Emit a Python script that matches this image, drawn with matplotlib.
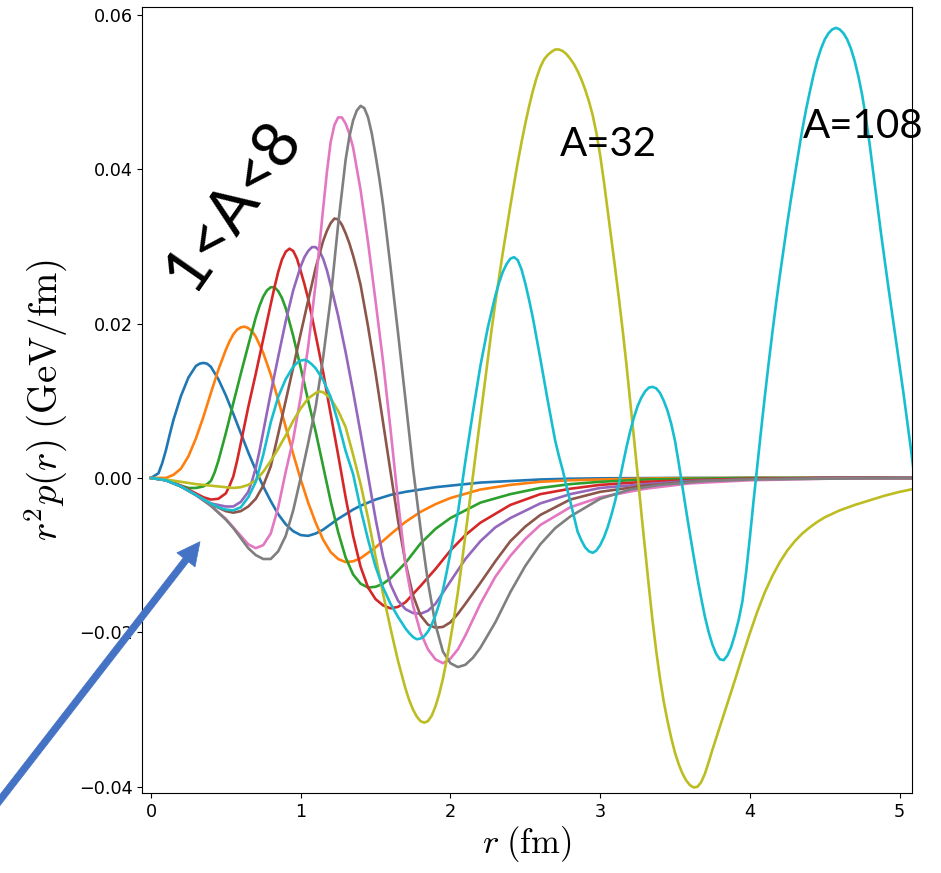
import matplotlib
matplotlib.use("Agg")
import matplotlib.pyplot as plt

plt.rcParams['mathtext.fontset'] = 'cm'

# (r [fm], r^2 p(r) [GeV/fm]) pairs, one list per nucleus
# light nuclei, 1<A<8
a1 = [(0, 0), (.05, .0006), (.075, .0019), (.1, .0036), (.125, .0056), (.15, .0075), (.2, .0106),
      (.25, .0130), (.3, .0145), (.325, .0148), (.35, .0149), (.375, .0148), (.4, .0144),
      (.45, .0128), (.5, .0107), (.55, .0083), (.6, .0058), (.65, .0033), (.7, .0010),
      (.75, -.0011), (.8, -.0030), (.85, -.0047), (.9, -.0060), (.95, -.0069), (1.0, -.0074),
      (1.05, -.0075), (1.1, -.0072), (1.15, -.0067), (1.2, -.0060), (1.25, -.0053),
      (1.3, -.0047), (1.35, -.0041), (1.4, -.0036), (1.5, -.0028), (1.6, -.0022),
      (1.7, -.0018), (1.8, -.0015), (1.9, -.0012), (2.0, -.0010), (2.2, -.0006),
      (2.4, -.0004), (2.6, -.0002), (2.8, -.0001), (3.0, -.00005), (3.5, 0), (5.1, 0)]

a2 = [(0, 0), (.1, 0), (.15, .0004), (.2, .0012), (.25, .0028), (.3, .0051), (.35, .0079),
      (.4, .0110), (.45, .0140), (.5, .0166), (.525, .0177), (.55, .0186), (.575, .0192),
      (.6, .0195), (.625, .0196), (.65, .0194), (.675, .0190), (.7, .0183), (.75, .0162),
      (.8, .0134), (.85, .0101), (.9, .0066), (.95, .0031), (1.0, -.0002), (1.05, -.0032),
      (1.1, -.0058), (1.15, -.0080), (1.2, -.0096), (1.25, -.0105), (1.3, -.0109),
      (1.35, -.0108), (1.4, -.0104), (1.5, -.0090), (1.6, -.0073), (1.7, -.0057),
      (1.8, -.0044), (1.9, -.0034), (2.0, -.0026), (2.2, -.0015), (2.4, -.0009),
      (2.6, -.0005), (2.8, -.0003), (3.0, -.0002), (3.4, -.00005), (4.0, 0), (5.1, 0)]

a3 = [(0, 0), (.1, -.0003), (.2, -.0010), (.25, -.0013), (.3, -.0013), (.35, -.0011),
      (.375, -.0008), (.4, -.0004), (.425, .0007), (.45, .0022), (.5, .0058), (.55, .0097),
      (.6, .0135), (.65, .0172), (.7, .0208), (.725, .0223), (.75, .0235), (.775, .0243),
      (.8, .0247), (.825, .0247), (.85, .0242), (.875, .0233), (.9, .0220), (.95, .0184),
      (1.0, .0143), (1.05, .0100), (1.1, .0060), (1.15, .0015), (1.2, -.0030), (1.25, -.0070),
      (1.3, -.0103), (1.35, -.0125), (1.4, -.0137), (1.45, -.0142), (1.5, -.0141),
      (1.55, -.0137), (1.6, -.0130), (1.7, -.0110), (1.8, -.0085), (1.9, -.0066),
      (2.0, -.0052), (2.2, -.0032), (2.4, -.0021), (2.6, -.0013), (2.8, -.0008),
      (3.0, -.0005), (3.3, -.0002), (3.6, -.0001), (4.0, 0), (5.1, 0)]

a4 = [(0, 0), (.1, -.0002), (.2, -.0010), (.3, -.0020), (.35, -.0025), (.4, -.0028),
      (.45, -.0027), (.5, -.0020), (.525, -.0010), (.55, .0002), (.575, .0022), (.6, .0045),
      (.65, .0092), (.7, .0135), (.75, .0180), (.8, .0225), (.825, .0247), (.85, .0267),
      (.875, .0283), (.9, .0293), (.925, .0297), (.95, .0294), (.975, .0284), (1.0, .0268),
      (1.025, .0251), (1.05, .0232), (1.075, .0209), (1.1, .0185), (1.15, .0137), (1.2, .0083),
      (1.25, .0030), (1.3, -.0025), (1.35, -.0075), (1.4, -.0115), (1.45, -.0142),
      (1.5, -.0157), (1.55, -.0165), (1.6, -.0169), (1.65, -.0167), (1.7, -.0161),
      (1.8, -.0140), (1.9, -.0118), (2.0, -.0094), (2.1, -.0074), (2.2, -.0058),
      (2.4, -.0035), (2.6, -.0021), (2.8, -.0014), (3.0, -.0009), (3.3, -.0005),
      (3.6, -.0003), (4.0, -.0001), (4.5, 0), (5.1, 0)]

a5 = [(0, 0), (.1, -.0003), (.2, -.0011), (.3, -.0022), (.4, -.0033), (.5, -.0037),
      (.55, -.0037), (.6, -.0031), (.65, -.0018), (.675, -.0004), (.7, .0013), (.725, .0035),
      (.75, .0060), (.8, .0110), (.85, .0157), (.9, .0203), (.95, .0243), (1.0, .0274),
      (1.025, .0286), (1.05, .0294), (1.075, .0299), (1.1, .0299), (1.125, .0294),
      (1.15, .0284), (1.175, .0269), (1.2, .0250), (1.25, .0210), (1.3, .0163), (1.35, .0112),
      (1.4, .0058), (1.45, .0003), (1.5, -.0053), (1.55, -.0102), (1.6, -.0138),
      (1.65, -.0159), (1.7, -.0170), (1.75, -.0175), (1.8, -.0176), (1.85, -.0172),
      (1.9, -.0163), (2.0, -.0134), (2.1, -.0105), (2.2, -.0082), (2.3, -.0064),
      (2.4, -.0052), (2.6, -.0033), (2.8, -.0021), (3.0, -.0013), (3.3, -.0008),
      (3.6, -.0004), (4.0, -.0002), (4.5, 0), (5.1, 0)]

a6 = [(0, 0), (.1, -.0003), (.2, -.0011), (.3, -.0022), (.4, -.0034), (.5, -.0043),
      (.55, -.0045), (.6, -.0043), (.65, -.0037), (.7, -.0027), (.75, -.0010), (.8, .0015),
      (.85, .0057), (.9, .0100), (.95, .0143), (1.0, .0187), (1.05, .0230), (1.1, .0272),
      (1.15, .0307), (1.175, .0320), (1.2, .0330), (1.225, .0336), (1.25, .0335),
      (1.275, .0328), (1.3, .0317), (1.325, .0304), (1.35, .0288), (1.375, .0270),
      (1.4, .0250), (1.45, .0196), (1.5, .0136), (1.55, .0072), (1.6, .0008), (1.65, -.0055),
      (1.7, -.0110), (1.75, -.0152), (1.8, -.0178), (1.85, -.0190), (1.9, -.0194),
      (1.95, -.0193), (2.0, -.0187), (2.05, -.0176), (2.1, -.0163), (2.2, -.0136),
      (2.3, -.0108), (2.4, -.0082), (2.5, -.0063), (2.6, -.0048), (2.8, -.0028),
      (3.0, -.0018), (3.3, -.0010), (3.6, -.0005), (4.0, -.0002), (4.5, 0), (5.1, 0)]

a7 = [(0, 0), (.1, -.0003), (.2, -.0011), (.3, -.0022), (.4, -.0036), (.5, -.0053),
      (.6, -.0075), (.65, -.0086), (.7, -.0091), (.75, -.0087), (.8, -.0072), (.85, -.0038),
      (.9, .0008), (.95, .0050), (1.0, .0105), (1.05, .0170), (1.1, .0252), (1.15, .0349),
      (1.175, .0396), (1.2, .0435), (1.225, .0457), (1.25, .0467), (1.275, .0467),
      (1.3, .0459), (1.325, .0446), (1.35, .0428), (1.4, .0373), (1.45, .0305), (1.5, .0229),
      (1.55, .0151), (1.6, .0063), (1.65, -.0030), (1.7, -.0112), (1.75, -.0165),
      (1.8, -.0200), (1.85, -.0222), (1.9, -.0235), (1.95, -.0240), (2.0, -.0234),
      (2.05, -.0222), (2.1, -.0204), (2.2, -.0163), (2.3, -.0128), (2.4, -.0101),
      (2.5, -.0079), (2.6, -.0061), (2.8, -.0038), (3.0, -.0025), (3.3, -.0014),
      (3.6, -.0007), (4.0, -.0003), (4.5, -.0001), (5.1, 0)]

a8 = [(0, 0), (.1, -.0003), (.2, -.0011), (.3, -.0022), (.4, -.0036), (.5, -.0054),
      (.55, -.0065), (.6, -.0078), (.65, -.0091), (.7, -.0100), (.75, -.0105), (.8, -.0105),
      (.85, -.0095), (.9, -.0075), (.95, -.0042), (1.0, .0000), (1.05, .0045), (1.1, .0092),
      (1.15, .0156), (1.2, .0232), (1.25, .0328), (1.3, .0412), (1.325, .0442), (1.35, .0463),
      (1.375, .0476), (1.4, .0482), (1.425, .0479), (1.45, .0467), (1.475, .0446),
      (1.5, .0418), (1.525, .0388), (1.55, .0354), (1.575, .0314), (1.6, .0273),
      (1.625, .0230), (1.65, .0188), (1.7, .0101), (1.75, .0013), (1.8, -.0065),
      (1.85, -.0135), (1.9, -.0190), (1.95, -.0225), (2.0, -.0240), (2.05, -.0245),
      (2.1, -.0242), (2.15, -.0233), (2.2, -.0220), (2.3, -.0187), (2.4, -.0148),
      (2.5, -.0114), (2.6, -.0086), (2.7, -.0065), (2.8, -.0050), (3.0, -.0027),
      (3.2, -.0015), (3.4, -.0009), (3.7, -.0004), (4.0, -.0002), (4.5, -.0001), (5.1, 0)]

# A = 32
a32 = [(0, 0), (.1, -.0002), (.2, -.0005), (.3, -.0008), (.4, -.0010), (.5, -.0012),
       (.55, -.0013), (.6, -.0012), (.65, -.0009), (.7, -.0003), (.75, .0008), (.8, .0022),
       (.85, .0038), (.9, .0055), (.95, .0074), (1.0, .0090), (1.05, .0103), (1.1, .0110),
       (1.125, .0112), (1.15, .0111), (1.2, .0103), (1.25, .0087), (1.3, .0066), (1.35, .0030),
       (1.4, -.0008), (1.45, -.0052), (1.5, -.0102), (1.55, -.0150), (1.6, -.0195),
       (1.65, -.0237), (1.7, -.0273), (1.725, -.0288), (1.75, -.0300), (1.775, -.0309),
       (1.8, -.0315), (1.825, -.0317), (1.85, -.0315), (1.875, -.0308), (1.9, -.0296),
       (1.925, -.0280), (1.95, -.0260), (1.975, -.0236), (2.0, -.0209), (2.025, -.0180),
       (2.05, -.0148), (2.075, -.0112), (2.1, -.0074), (2.125, -.0036), (2.15, .0002),
       (2.175, .0040), (2.2, .0078), (2.225, .0117), (2.25, .0155), (2.275, .0192),
       (2.3, .0227), (2.325, .0260), (2.35, .0292), (2.375, .0322), (2.4, .0352),
       (2.425, .0381), (2.45, .0409), (2.475, .0435), (2.5, .0459), (2.525, .0481),
       (2.55, .0501), (2.575, .0518), (2.6, .0532), (2.625, .0542), (2.65, .0548),
       (2.675, .0552), (2.7, .0555), (2.725, .0555), (2.75, .0553), (2.775, .0549),
       (2.8, .0543), (2.825, .0536), (2.85, .0527), (2.875, .0516), (2.9, .0503),
       (2.925, .0488), (2.95, .0470), (2.975, .0447), (3.0, .0418), (3.025, .0384),
       (3.05, .0347), (3.075, .0310), (3.1, .0272), (3.125, .0233), (3.15, .0192),
       (3.175, .0148), (3.2, .0101), (3.225, .0053), (3.25, .0005), (3.275, -.0045),
       (3.3, -.0093), (3.325, -.0140), (3.35, -.0185), (3.375, -.0225), (3.4, -.0260),
       (3.425, -.0290), (3.45, -.0315), (3.475, -.0337), (3.5, -.0356), (3.525, -.0371),
       (3.55, -.0383), (3.575, -.0392), (3.6, -.0398), (3.625, -.0401), (3.65, -.0400),
       (3.675, -.0394), (3.7, -.0383), (3.725, -.0368), (3.75, -.0352), (3.775, -.0337),
       (3.8, -.0322), (3.85, -.0292), (3.9, -.0262), (3.95, -.0231), (4.0, -.0201),
       (4.05, -.0173), (4.1, -.0148), (4.15, -.0127), (4.2, -.0109), (4.25, -.0094),
       (4.3, -.0082), (4.35, -.0072), (4.4, -.0064), (4.45, -.0057), (4.5, -.0051),
       (4.6, -.0042), (4.7, -.0035), (4.8, -.0029), (4.9, -.0023), (5.0, -.0018),
       (5.1, -.0014)]

# A = 108
a108 = [(0, 0), (.1, -.0003), (.2, -.0011), (.3, -.0022), (.4, -.0033), (.45, -.0038),
        (.5, -.0041), (.55, -.0042), (.6, -.0038), (.65, -.0025), (.7, -.0005), (.75, .0030),
        (.8, .0072), (.85, .0105), (.9, .0128), (.95, .0144), (.975, .0149), (1.0, .0152),
        (1.025, .0153), (1.05, .0151), (1.075, .0147), (1.1, .0142), (1.15, .0127),
        (1.2, .0105), (1.25, .0072), (1.3, .0035), (1.35, .0005), (1.4, -.0040), (1.45, -.0080),
        (1.5, -.0115), (1.55, -.0142), (1.6, -.0163), (1.65, -.0180), (1.7, -.0195),
        (1.725, -.0201), (1.75, -.0206), (1.775, -.0209), (1.8, -.0208), (1.825, -.0205),
        (1.85, -.0199), (1.875, -.0190), (1.9, -.0178), (1.925, -.0163), (1.95, -.0145),
        (1.975, -.0122), (2.0, -.0097), (2.025, -.0071), (2.05, -.0045), (2.075, -.0012),
        (2.1, .0022), (2.15, .0085), (2.2, .0145), (2.25, .0195), (2.3, .0236), (2.325, .0253),
        (2.35, .0267), (2.375, .0277), (2.4, .0284), (2.425, .0286), (2.45, .0282),
        (2.475, .0270), (2.5, .0252), (2.525, .0231), (2.55, .0208), (2.6, .0155),
        (2.65, .0100), (2.7, .0048), (2.725, .0028), (2.75, .0010), (2.775, -.0011),
        (2.8, -.0030), (2.825, -.0050), (2.85, -.0070), (2.875, -.0081), (2.9, -.0090),
        (2.925, -.0095), (2.95, -.0097), (2.975, -.0094), (3.0, -.0087), (3.025, -.0077),
        (3.05, -.0064), (3.075, -.0048), (3.1, -.0030), (3.125, -.0008), (3.15, .0016),
        (3.175, .0039), (3.2, .0060), (3.225, .0078), (3.25, .0093), (3.275, .0104),
        (3.3, .0112), (3.325, .0117), (3.35, .0118), (3.375, .0116), (3.4, .0110),
        (3.425, .0100), (3.45, .0087), (3.475, .0070), (3.5, .0048), (3.525, .0019),
        (3.55, -.0012), (3.575, -.0043), (3.6, -.0073), (3.625, -.0102), (3.65, -.0130),
        (3.675, -.0156), (3.7, -.0180), (3.725, -.0200), (3.75, -.0216), (3.775, -.0228),
        (3.8, -.0235), (3.825, -.0236), (3.85, -.0230), (3.875, -.0219), (3.9, -.0203),
        (3.925, -.0184), (3.95, -.0160), (3.975, -.0122), (4.0, -.0077), (4.025, -.0029),
        (4.05, .0017), (4.075, .0062), (4.1, .0106), (4.125, .0148), (4.15, .0188),
        (4.175, .0226), (4.2, .0262), (4.225, .0296), (4.25, .0330), (4.275, .0362),
        (4.3, .0392), (4.325, .0422), (4.35, .0451), (4.375, .0477), (4.4, .0500),
        (4.425, .0522), (4.45, .0541), (4.475, .0556), (4.5, .0568), (4.525, .0576),
        (4.55, .0581), (4.575, .0583), (4.6, .0581), (4.625, .0576), (4.65, .0568),
        (4.675, .0556), (4.7, .0540), (4.725, .0520), (4.75, .0496), (4.775, .0466),
        (4.8, .0432), (4.825, .0394), (4.85, .0355), (4.875, .0318), (4.9, .0282),
        (4.925, .0247), (4.95, .0213), (4.975, .0180), (5.0, .0146), (5.025, .0111),
        (5.05, .0075), (5.075, .0038), (5.1, .0000)]

curves = [a1, a2, a3, a4, a5, a6, a7, a8, a32, a108]

fig = plt.figure(figsize=(9.41, 8.73), dpi=100)
ax = fig.add_axes([0.1512, 0.0913, 0.8177, 0.9003])

for pts in curves:
    r, p = zip(*pts)
    ax.plot(r, p, lw=1.9)

ax.set_xlim(-0.058, 5.081)
ax.set_ylim(-0.04085, 0.06096)
ax.set_yticks([-0.04, -0.02, 0.0, 0.02, 0.04, 0.06])
ax.set_xticks([0, 1, 2, 3, 4, 5])
ax.tick_params(labelsize=12.7)

ax.set_xlabel(r'$r\;(\mathrm{fm})$', fontsize=25, labelpad=2)
ax.set_ylabel(r'$r^2p(r)\;(\mathrm{GeV/fm})$', fontsize=28, labelpad=6)

# annotations
ax.text(0.548, 0.0353, '1<A<8', family='Lato', fontsize=46, rotation=55,
        ha='center', va='center')
ax.text(2.73, 0.0417, 'A=32', family='Lato', fontsize=29, va='baseline', ha='left')
ax.text(4.355, 0.0440, 'A=108', family='Lato', fontsize=29, va='baseline', ha='left')

ax.annotate('', xy=(200, 331.3), xycoords='figure pixels',
            xytext=(-15, 53.6), textcoords='figure pixels',
            arrowprops=dict(arrowstyle='simple,head_length=0.75,head_width=0.75,tail_width=0.22',
                            mutation_scale=22, fc='#4472C4', ec='#4472C4', lw=0.5,
                            shrinkA=0, shrinkB=0),
            annotation_clip=False)

fig.savefig('out.png', dpi=100)
